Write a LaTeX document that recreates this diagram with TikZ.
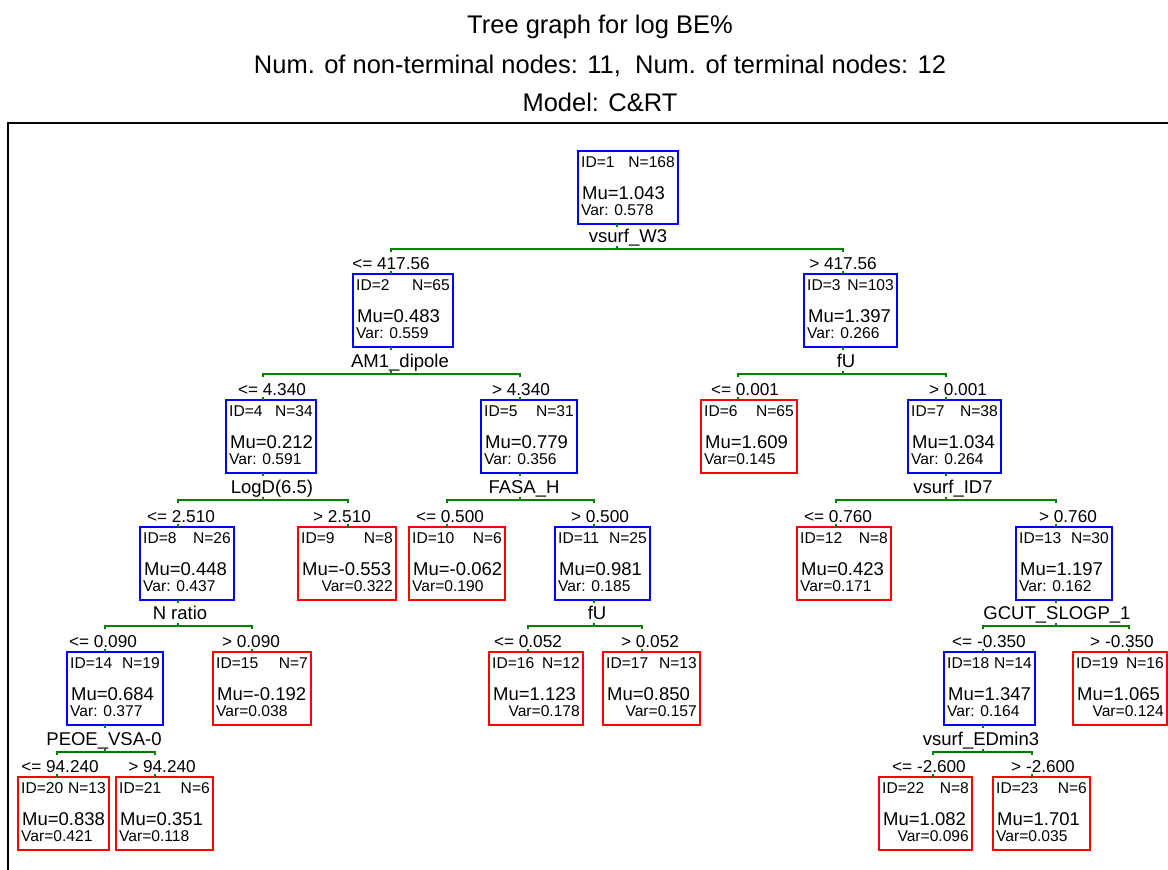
\documentclass[tikz,border=0pt]{standalone}
\usepackage{fontspec}
\setmainfont{Liberation Sans}
\usetikzlibrary{calc}
\definecolor{boxblue}{RGB}{0,0,255}
\definecolor{boxred}{RGB}{255,0,0}
\definecolor{linkgreen}{RGB}{0,128,0}
\tikzset{
  cbox/.style={rectangle, line width=2pt, minimum height=73pt, inner sep=0pt, outer sep=0pt},
  smalltxt/.style={inner sep=0pt, font=\fontsize{15.6}{17}\selectfont},
  bigtxt/.style={inner sep=0pt, font=\fontsize{18.5}{20}\selectfont},
  splitlab/.style={inner sep=0pt, font=\fontsize{18.5}{20}\selectfont},
  condlab/.style={inner sep=0pt, font=\fontsize{17.2}{19}\selectfont},
  titletxt/.style={inner sep=0pt, font=\fontsize{25.5}{30}\selectfont},
  link/.style={draw=linkgreen, line width=2pt},
  frameline/.style={draw=black, line width=2pt}
}
% name, left, right, top, connection x, colour
\newcommand{\ctbox}[6]{%
  \pgfmathsetmacro{\ctw}{#3-#2}%
  \node[cbox, draw=#6, minimum width=\ctw pt, anchor=north west] (#1) at (#2,#4) {};
  \coordinate (#1-t) at (#5,#4);
  \coordinate (#1-b) at (#5,#4+73);
}
% name, ID, N, Mu
\newcommand{\ctstats}[4]{%
  \node[smalltxt, anchor=base west] (#1-id) at ($(#1.north west)+(3,16)$) {ID=#2};
  \node[smalltxt, anchor=base east] (#1-n) at ($(#1.north east)+(-3,16)$) {N=#3};
  \node[bigtxt, anchor=base west] (#1-mu) at ($(#1.north west)+(4,48.5)$) {Mu=#4};
}
\newcommand{\ctvarL}[2]{%
  \node[smalltxt, anchor=base west] (#1-var) at ($(#1.north west)+(3,64)$) {#2};
}
\newcommand{\ctvarR}[2]{%
  \node[smalltxt, anchor=base east] (#1-var) at ($(#1.north east)+(-3,64)$) {#2};
}
% name, label x, text
\newcommand{\ctcond}[3]{%
  \path (#1-t) ++(0,-5) coordinate (#1-cy);
  \coordinate (#1-cx) at (#2,0);
  \node[condlab, anchor=base] (#1-cond) at (#1-cy -| #1-cx) {#3};
}
% parent, left child, right child, bar y, label x, label
\newcommand{\ctsplit}[6]{%
  \coordinate (#1-yy) at (0,#4);
  \coordinate (#1-lx) at (#5,#4-7);
  \draw[link] (#1-b) -- ++(0,3);
  \draw[link] (#1-b |- #1-yy) -- ++(0,-3);
  \draw[link] ($(#2-t |- #1-yy)+(0,3)$) -- (#2-t |- #1-yy) -- (#3-t |- #1-yy) -- ++(0,3);
  \draw[link] (#2-t) -- ++(0,-3);
  \draw[link] (#3-t) -- ++(0,-3);
  \node[splitlab, anchor=base] (#1-lab) at (#1-lx) {#6};
}
\begin{document}
\begin{tikzpicture}[x=1pt, y=-1pt]
\path[use as bounding box] (0,0) rectangle (1168,870);
\fill[white] (0,0) rectangle (1168,870);

\node[titletxt, anchor=base] (title1) at (600,33) {Tree graph for log BE\%};
\node[titletxt, anchor=base] (title2) at (600,73) {Num. of non-terminal nodes: 11,\ \ Num. of terminal nodes: 12};
\node[titletxt, anchor=base] (title3) at (600,111) {Model: C\&RT};

\coordinate (fr1) at (8,871);
\coordinate (fr2) at (8,123);
\coordinate (fr3) at (1169,123);
\draw[frameline] (fr1) -- (fr2) -- (fr3);

% level 0
\ctbox{n1}{578}{678}{151}{617}{boxblue}
\ctstats{n1}{1}{168}{1.043}\ctvarL{n1}{Var: 0.578}
% level 1
\ctbox{n2}{353}{453}{274}{391}{boxblue}
\ctstats{n2}{2}{65}{0.483}\ctvarL{n2}{Var: 0.559}
\ctbox{n3}{804}{897}{274}{843}{boxblue}
\ctstats{n3}{3}{103}{1.397}\ctvarL{n3}{Var: 0.266}
% level 2
\ctbox{n4}{226}{316}{400}{263}{boxblue}
\ctstats{n4}{4}{34}{0.212}\ctvarL{n4}{Var: 0.591}
\ctbox{n5}{481}{577}{400}{520}{boxblue}
\ctstats{n5}{5}{31}{0.779}\ctvarL{n5}{Var: 0.356}
\ctbox{n6}{701}{797}{400}{738}{boxred}
\ctstats{n6}{6}{65}{1.609}\ctvarL{n6}{Var=0.145}
\ctbox{n7}{908}{1001}{400}{946}{boxblue}
\ctstats{n7}{7}{38}{1.034}\ctvarL{n7}{Var: 0.264}
% level 3
\ctbox{n8}{140}{234}{527}{178}{boxblue}
\ctstats{n8}{8}{26}{0.448}\ctvarL{n8}{Var: 0.437}
\ctbox{n9}{298}{396}{527}{348}{boxred}
\ctstats{n9}{9}{8}{-0.553}\ctvarR{n9}{Var=0.322}
\ctbox{n10}{409}{505}{527}{447}{boxred}
\ctstats{n10}{10}{6}{-0.062}\ctvarL{n10}{Var=0.190}
\ctbox{n11}{555}{650}{527}{594}{boxblue}
\ctstats{n11}{11}{25}{0.981}\ctvarL{n11}{Var: 0.185}
\ctbox{n12}{797}{891}{527}{836}{boxred}
\ctstats{n12}{12}{8}{0.423}\ctvarL{n12}{Var=0.171}
\ctbox{n13}{1016}{1112}{527}{1056}{boxblue}
\ctstats{n13}{13}{30}{1.197}\ctvarL{n13}{Var: 0.162}
% level 4
\ctbox{n14}{67}{163}{652}{105}{boxblue}
\ctstats{n14}{14}{19}{0.684}\ctvarL{n14}{Var: 0.377}
\ctbox{n15}{213}{311}{652}{252}{boxred}
\ctstats{n15}{15}{7}{-0.192}\ctvarL{n15}{Var=0.038}
\ctbox{n16}{489}{583}{652}{528}{boxred}
\ctstats{n16}{16}{12}{1.123}\ctvarR{n16}{Var=0.178}
\ctbox{n17}{603}{700}{652}{642}{boxred}
\ctstats{n17}{17}{13}{0.850}\ctvarR{n17}{Var=0.157}
\ctbox{n18}{944}{1035}{652}{983}{boxblue}
\ctstats{n18}{18}{14}{1.347}\ctvarL{n18}{Var: 0.164}
\ctbox{n19}{1073}{1167}{652}{1129}{boxred}
\ctstats{n19}{19}{16}{1.065}\ctvarR{n19}{Var=0.124}
% level 5
\ctbox{n20}{18}{109}{777}{57}{boxred}
\ctstats{n20}{20}{13}{0.838}\ctvarL{n20}{Var=0.421}
\ctbox{n21}{116}{213}{777}{155}{boxred}
\ctstats{n21}{21}{6}{0.351}\ctvarL{n21}{Var=0.118}
\ctbox{n22}{879}{972}{777}{933}{boxred}
\ctstats{n22}{22}{8}{1.082}\ctvarR{n22}{Var=0.096}
\ctbox{n23}{993}{1090}{777}{1032}{boxred}
\ctstats{n23}{23}{6}{1.701}\ctvarL{n23}{Var=0.035}

% conditions
\ctcond{n2}{391}{<= 417.56}
\ctcond{n3}{843}{> 417.56}
\ctcond{n4}{272}{<= 4.340}
\ctcond{n5}{521}{> 4.340}
\ctcond{n6}{745}{<= 0.001}
\ctcond{n7}{958}{> 0.001}
\ctcond{n8}{181}{<= 2.510}
\ctcond{n9}{342}{> 2.510}
\ctcond{n10}{450}{<= 0.500}
\ctcond{n11}{600}{> 0.500}
\ctcond{n12}{838}{<= 0.760}
\ctcond{n13}{1068}{> 0.760}
\ctcond{n14}{103}{<= 0.090}
\ctcond{n15}{251}{> 0.090}
\ctcond{n16}{528}{<= 0.052}
\ctcond{n17}{650}{> 0.052}
\ctcond{n18}{989}{<= -0.350}
\ctcond{n19}{1122}{> -0.350}
\ctcond{n20}{60}{<= 94.240}
\ctcond{n21}{162}{> 94.240}
\ctcond{n22}{929}{<= -2.600}
\ctcond{n23}{1043}{> -2.600}

% splits
\ctsplit{n1}{n2}{n3}{249}{628}{vsurf\_W3}
\ctsplit{n2}{n4}{n5}{374}{400}{AM1\_dipole}
\ctsplit{n3}{n6}{n7}{374}{846}{fU}
\ctsplit{n4}{n8}{n9}{500}{272}{LogD(6.5)}
\ctsplit{n5}{n10}{n11}{500}{524}{FASA\_H}
\ctsplit{n7}{n12}{n13}{500}{953}{vsurf\_ID7}
\ctsplit{n8}{n14}{n15}{626}{180}{N ratio}
\ctsplit{n11}{n16}{n17}{626}{597}{fU}
\ctsplit{n13}{n18}{n19}{626}{1057}{GCUT\_SLOGP\_1}
\ctsplit{n14}{n20}{n21}{752}{104}{PEOE\_VSA-0}
\ctsplit{n18}{n22}{n23}{752}{981}{vsurf\_EDmin3}
\end{tikzpicture}
\end{document}
